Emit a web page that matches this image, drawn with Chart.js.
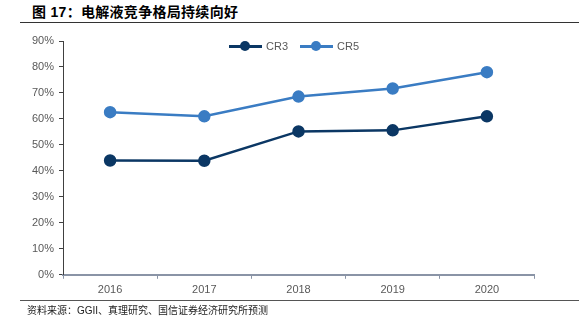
<!DOCTYPE html>
<html><head><meta charset="utf-8">
<script src="https://cdn.jsdelivr.net/npm/chart.js@4"></script>
<style>
html,body{margin:0;padding:0;background:#fff;}
#wrap{position:relative;width:579px;height:333px;overflow:hidden;font-family:"Liberation Sans",Arial,sans-serif;}
#title{position:absolute;left:32px;top:1px;font-size:14px;font-weight:bold;color:#000;font-family:"Liberation Sans","Noto Sans CJK SC",sans-serif;white-space:nowrap;letter-spacing:0.3px;}
#hr1{position:absolute;left:20px;top:22px;width:559px;height:1px;background:#333;}
#hr2{position:absolute;left:20px;top:300px;width:559px;height:1px;background:#555;}
#src{position:absolute;left:27px;top:302px;font-size:10px;color:#222;font-family:"Liberation Sans","Noto Sans CJK SC",sans-serif;white-space:nowrap;}
#legend{position:absolute;top:40px;left:229px;font-size:11px;color:#595959;display:flex;gap:12px;}
.li{display:flex;align-items:center;}
.mk{position:relative;width:33px;height:12px;margin-right:4px;}
.mk .ln{position:absolute;left:0;top:5px;width:33px;height:2.5px;}
.mk .dt{position:absolute;left:11px;top:1px;width:10px;height:10px;border-radius:50%;}
canvas{position:absolute;left:0;top:0;}
</style></head>
<body><div id="wrap">
<div id="title">图 17：电解液竞争格局持续向好</div>
<div id="hr1"></div>
<canvas id="c" width="579" height="333"></canvas>
<div id="legend"></div>
<div id="hr2"></div>
<div id="src">资料来源：GGII、真理研究、国信证券经济研究所预测</div>
</div>
<script>
const categories = ["2016","2017","2018","2019","2020"];
const cr3 = [44.0, 43.9, 55.2, 55.6, 61.0];
const cr5 = [62.6, 61.0, 68.6, 71.7, 78.0];
const seriesNames = ["CR3","CR5"];
const seriesColors = ["#0b3764","#3a7cc3"];
const yTicks = [0,10,20,30,40,50,60,70,80,90];

const datasets = [cr3, cr5].map((d,i)=>({
  label: seriesNames[i], data: d,
  borderColor: seriesColors[i], backgroundColor: seriesColors[i],
  borderWidth: 2.5, pointRadius: 5, pointHoverRadius: 5,
  pointBackgroundColor: seriesColors[i], pointBorderColor: seriesColors[i],
  tension: 0, fill: false
}));

const lg = document.getElementById('legend');
seriesNames.forEach((n,i)=>{
  const d = document.createElement('div'); d.className='li';
  d.innerHTML = `<div class="mk"><div class="ln" style="background:${seriesColors[i]}"></div><div class="dt" style="background:${seriesColors[i]}"></div></div><span>${n}</span>`;
  lg.appendChild(d);
});

new Chart(document.getElementById('c'), {
  type: 'line',
  data: { labels: categories, datasets },
  options: {
    responsive: false, animation: false,
    layout: { padding: { left: 0, right: 45, top: 41, bottom: 31 } },
    plugins: { legend: { display: false }, tooltip: { enabled: false } },
    scales: {
      x: {
        offset: true,
        grid: { display: true, drawOnChartArea: false, offset: true, tickLength: 4, color: '#8a94a6', lineWidth: 1 },
        border: { display: true, color: '#8a94a6', width: 2 },
        ticks: { color: '#595959', font: { family: 'Liberation Sans', size: 11 }, padding: 5, maxRotation: 0 }
      },
      y: {
        min: 0, max: 90,
        afterFit: s => { s.width = 63; },
        afterBuildTicks: s => { s.ticks = yTicks.map(v=>({value:v})); },
        grid: { display: true, drawOnChartArea: false, tickLength: 4, color: '#404040' },
        border: { display: true, color: '#404040', width: 1 },
        ticks: { color: '#595959', font: { family: 'Liberation Sans', size: 11 }, padding: 5, callback: v => v + '%' }
      }
    }
  }
});
</script>
</body></html>
